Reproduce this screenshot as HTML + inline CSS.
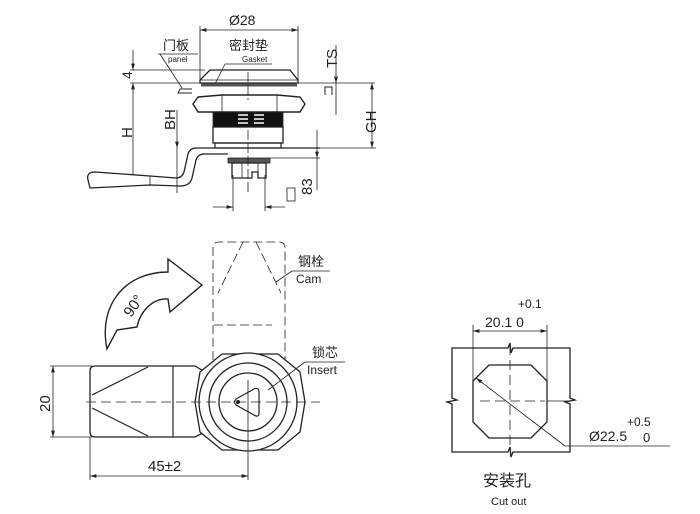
<!DOCTYPE html>
<html><head><meta charset="utf-8"><style>
html,body{margin:0;padding:0;background:#fff;}
svg{display:block;}
text{font-family:"Liberation Sans","Noto Sans CJK SC",sans-serif;fill:#222;}
</style></head><body>
<svg width="700" height="514" viewBox="0 0 700 514" xmlns="http://www.w3.org/2000/svg">
<defs>
<marker id="a" viewBox="0 0 10 6" refX="10" refY="3" markerWidth="8" markerHeight="5" orient="auto-start-reverse"><path d="M0,0 L10,3 L0,6 z" fill="#222"/></marker>
</defs>
<g stroke="#222" fill="none" stroke-width="0.8">
<!-- TOP VIEW -->
<line x1="200" y1="30" x2="298" y2="30" marker-start="url(#a)" marker-end="url(#a)"/>
<line x1="200" y1="26" x2="200" y2="80"/><line x1="298" y1="26" x2="298" y2="80"/>
<line x1="158" y1="54" x2="198" y2="54"/><line x1="160" y1="54" x2="182" y2="88"/>
<line x1="225" y1="64" x2="272" y2="64"/><line x1="225" y1="64" x2="215" y2="84"/>
<line x1="130" y1="70" x2="205" y2="70"/>
<line x1="130" y1="83" x2="375" y2="83"/>
<line x1="133" y1="50" x2="133" y2="70" marker-end="url(#a)"/>
<line x1="133" y1="83" x2="133" y2="175" marker-start="url(#a)"/>
<path d="M210,70 L290,70 L298,80 L298,83 L200,83 L200,80 Z" stroke-width="1.3"/>
<line x1="200" y1="80" x2="298" y2="80"/>
<rect x="201" y="83.5" width="96" height="3" fill="#555" stroke="none"/>
<path d="M192,89 L180,89 L178,93 L192,93" stroke-width="1"/>
<path d="M198,97 L222,95 L277,95 L300,97 L305,104 L300,112 L198,112 L193,104 Z" stroke-width="1.4"/>
<line x1="222" y1="95" x2="222" y2="112"/><line x1="277" y1="95" x2="277" y2="112"/>
<rect x="213" y="112" width="70" height="15" fill="#111"/>
<path d="M238,115 h10 M238,119 h10 M238,123 h10 M254,115 h10 M254,119 h10 M254,123 h10" stroke="#fff" stroke-width="1.6"/>
<rect x="213" y="127" width="70" height="16" stroke-width="1.3"/>
<rect x="215" y="143" width="66" height="5" stroke-width="1.2"/>
<rect x="228" y="158" width="42" height="5" fill="#555"/>
<path d="M232,163 L266,163 L266,178 L258,178 L258,172 L252,172 L252,178 L232,178 Z" stroke-width="1.3"/>
<line x1="242" y1="163" x2="242" y2="178"/><line x1="258" y1="163" x2="258" y2="172"/>
<path d="M320,148 L196,148 Q190,148 188,154 L184,172 Q182,178 176,178 L150,176 L95,172 Q86,172 88,180 L90,188 L150,185 L180,186 Q190,186 192,178 L196,160 Q198,154 204,154 L228,154" stroke-width="1.3"/>
<line x1="150" y1="176" x2="150" y2="185"/>
<line x1="248" y1="72" x2="248" y2="100" stroke-dasharray="10 3"/>
<line x1="248" y1="130" x2="248" y2="195" stroke-dasharray="10 3"/>
<line x1="177" y1="110" x2="177" y2="148" marker-end="url(#a)"/>
<line x1="177" y1="148" x2="177" y2="193"/>
<line x1="372" y1="83" x2="372" y2="148" marker-start="url(#a)" marker-end="url(#a)"/>
<line x1="300" y1="148" x2="376" y2="148"/>
<line x1="336" y1="45" x2="336" y2="83" marker-end="url(#a)"/>
<line x1="336" y1="83" x2="336" y2="115"/>
<path d="M332,95 L332,87 L325,87 L325,95" stroke-width="1"/>
<line x1="317" y1="130" x2="317" y2="158" marker-end="url(#a)"/>
<line x1="317" y1="158" x2="317" y2="190"/>
<line x1="270" y1="158" x2="320" y2="158"/>
<line x1="213" y1="207" x2="233" y2="207" marker-end="url(#a)"/>
<line x1="265" y1="207" x2="285" y2="207" marker-start="url(#a)"/>
<line x1="233" y1="175" x2="233" y2="211"/><line x1="265" y1="175" x2="265" y2="211"/>
<rect x="287" y="188" width="8" height="13"/>

<!-- BOTTOM LEFT -->
<path d="M213,360 L213,248 Q213,242 219,242 L279,242 Q285,242 285,248 L285,360" stroke-dasharray="9 4"/>
<line x1="243" y1="242" x2="218" y2="293" stroke-dasharray="9 4"/>
<line x1="256" y1="242" x2="281" y2="293" stroke-dasharray="9 4"/>
<line x1="214" y1="325" x2="272" y2="325" stroke-dasharray="9 4"/>
<line x1="292" y1="271" x2="330" y2="271"/><line x1="292" y1="271" x2="276" y2="282"/>
<path d="M107,349 C98,305 125,272 168,272 L168,259 L202,285 L170,312 L168,299 C152,298 140,312 137,327 L117,330 Z" stroke-width="1.4"/>
<path d="M95,366 L195,366 L205,372 L205,432 L195,437 L95,437 Q90,437 90,432 L90,371 Q90,366 95,366 Z" stroke-width="1.3"/>
<line x1="173" y1="366" x2="173" y2="437" stroke-width="1.2"/>
<line x1="92" y1="395" x2="148" y2="367" stroke-width="1.2"/>
<line x1="92" y1="408" x2="148" y2="436" stroke-width="1.2"/>
<path d="M222,354 L278,354 L300,372 L305,402 L300,432 L278,450 L222,450 L200,432 L195,402 L200,372 Z" stroke-width="1.3" fill="#fff"/>
<circle cx="248" cy="402" r="49" stroke-width="1.3" fill="#fff"/>
<circle cx="248" cy="402" r="39" stroke-width="1.3"/>
<circle cx="248" cy="402" r="29" stroke-width="1.3"/>
<path d="M236,399 L254,389 Q259,387 259,392 L259,413 Q259,418 254,415 L236,405 Q233,402 236,399 Z" stroke-width="1.2"/>
<circle cx="238" cy="402" r="1.6" fill="#222"/>
<line x1="86" y1="402" x2="320" y2="402" stroke-dasharray="10 5"/>
<line x1="248" y1="380" x2="248" y2="480"/>
<line x1="305" y1="362" x2="345" y2="362"/><line x1="305" y1="362" x2="268" y2="390"/>
<line x1="50" y1="366" x2="92" y2="366"/><line x1="50" y1="437" x2="92" y2="437"/>
<line x1="53" y1="366" x2="53" y2="437" marker-start="url(#a)" marker-end="url(#a)"/>
<line x1="90" y1="437" x2="90" y2="480"/>
<line x1="90" y1="476" x2="248" y2="476" marker-start="url(#a)" marker-end="url(#a)"/>

<!-- BOTTOM RIGHT -->
<path d="M452,348 L508,348 L510,343 L511,353 L513,348 L570,348 L570,398 L575,400 L565,402 L570,404 L570,452 L513,452 L511,457 L510,447 L508,452 L452,452 L452,404 L447,402 L457,400 L452,398 Z" stroke-width="1.3"/>
<path d="M489,365 L531,365 L547,381 L547,422 L531,438 L489,438 L473,422 L473,381 Z" stroke-width="1.3"/>
<line x1="510" y1="345" x2="510" y2="450" stroke-dasharray="10 5"/>
<line x1="480" y1="401" x2="545" y2="401" stroke-dasharray="10 5"/>
<line x1="547" y1="401" x2="570" y2="401"/>
<line x1="473" y1="325" x2="473" y2="390"/><line x1="547" y1="325" x2="547" y2="395"/>
<line x1="473" y1="331" x2="547" y2="331" marker-start="url(#a)" marker-end="url(#a)"/>
<line x1="476" y1="378" x2="565" y2="446" marker-start="url(#a)"/>
<line x1="565" y1="446" x2="670" y2="446"/>
</g>
<g font-size="13">
<text x="229" y="25" font-size="14">Ø28</text>
<text x="163" y="50">门板</text>
<text x="168" y="62" font-size="8">panel</text>
<text x="229" y="50">密封垫</text>
<text x="242" y="62" font-size="8">Gasket</text>
<text transform="translate(132,79) rotate(-90)" font-size="14">4</text>
<text transform="translate(132,138) rotate(-90)" font-size="15">H</text>
<text transform="translate(175,130) rotate(-90)" font-size="15">BH</text>
<text transform="translate(376,133) rotate(-90)" font-size="15">GH</text>
<text transform="translate(337,68) rotate(-90)" font-size="15">TS</text>
<text transform="translate(312,195) rotate(-90)" font-size="15">83</text>
<text x="298" y="266">钢栓</text>
<text x="296" y="283" font-size="12">Cam</text>
<text transform="translate(131,318) rotate(-55)" font-size="15">90°</text>
<text x="312" y="357">锁芯</text>
<text x="307" y="374" font-size="12">Insert</text>
<text transform="translate(50,412) rotate(-90)" font-size="15">20</text>
<text x="148" y="471" font-size="15">45±2</text>
<text x="518" y="308" font-size="12">+0.1</text>
<text x="485" y="327" font-size="14">20.1 0</text>
<text x="589" y="441" font-size="14">Ø22.5</text>
<text x="627" y="426" font-size="12">+0.5</text>
<text x="643" y="442" font-size="13">0</text>
<text x="483" y="486" font-size="16">安装孔</text>
<text x="491" y="505" font-size="11">Cut out</text>
</g>
</svg>
</body></html>
